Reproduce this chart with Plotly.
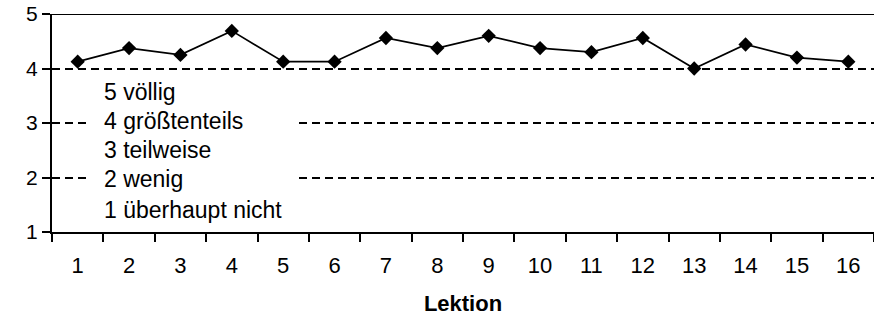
import plotly.graph_objects as go

lektionen = [str(i) for i in range(1, 17)]
werte = [4.125, 4.375, 4.25, 4.69, 4.125, 4.125, 4.56, 4.375, 4.6, 4.375,
         4.3, 4.56, 4.0, 4.44, 4.2, 4.125]
y_ticks = [1, 2, 3, 4, 5]
skala_texte = ["5 völlig", "4 größtenteils", "3 teilweise", "2 wenig", "1 überhaupt nicht"]

FONT = "Liberation Sans, Arial, sans-serif"

fig = go.Figure()
fig.add_trace(go.Scatter(
    x=lektionen, y=werte, mode="lines+markers",
    line=dict(color="black", width=1.7),
    marker=dict(symbol="diamond", size=11, color="black"),
    showlegend=False, cliponaxis=False,
))

# white legend box covering the gridlines
fig.add_shape(type="rect", xref="paper", yref="paper",
              x0=0.046, x1=0.298, y0=0.01, y1=0.734,
              fillcolor="white", line=dict(width=0), layer="above")

ys = [0.644, 0.511, 0.376, 0.243, 0.101]
for t, yy in zip(skala_texte, ys):
    fig.add_annotation(text=t, xref="paper", yref="paper", x=0.061, y=yy,
                       xanchor="left", yanchor="middle", showarrow=False,
                       font=dict(family=FONT, size=23, color="black"))

# solid top line at 5
fig.add_shape(type="line", xref="paper", yref="y", x0=0, x1=1, y0=5, y1=5,
              line=dict(color="black", width=2), layer="above")

fig.update_layout(
    width=874, height=323,
    margin=dict(l=52, r=0, t=14, b=91),
    paper_bgcolor="white", plot_bgcolor="white",
    font=dict(family=FONT, size=22, color="black"),
)
fig.update_xaxes(
    type="category", range=[-0.5, 15.5],
    showline=True, linecolor="black", linewidth=2,
    ticks="outside", ticklen=8, tickwidth=2, tickcolor="black",
    tickson="boundaries", showgrid=False,
    tickfont=dict(family=FONT, size=22),
    ticklabelstandoff=13,
    title=dict(text="<b>Lektion</b>", font=dict(family=FONT, size=22), standoff=18),
)
fig.update_yaxes(
    range=[1, 5], tickvals=y_ticks,
    showline=True, linecolor="black", linewidth=2,
    ticks="outside", ticklen=8, tickwidth=1.5, tickcolor="black",
    showgrid=True, gridcolor="black", gridwidth=1.5, griddash="8px,5px",
    zeroline=False,
    tickfont=dict(family=FONT, size=21),
    ticklabelstandoff=0,
)

fig.write_html("out.html")
